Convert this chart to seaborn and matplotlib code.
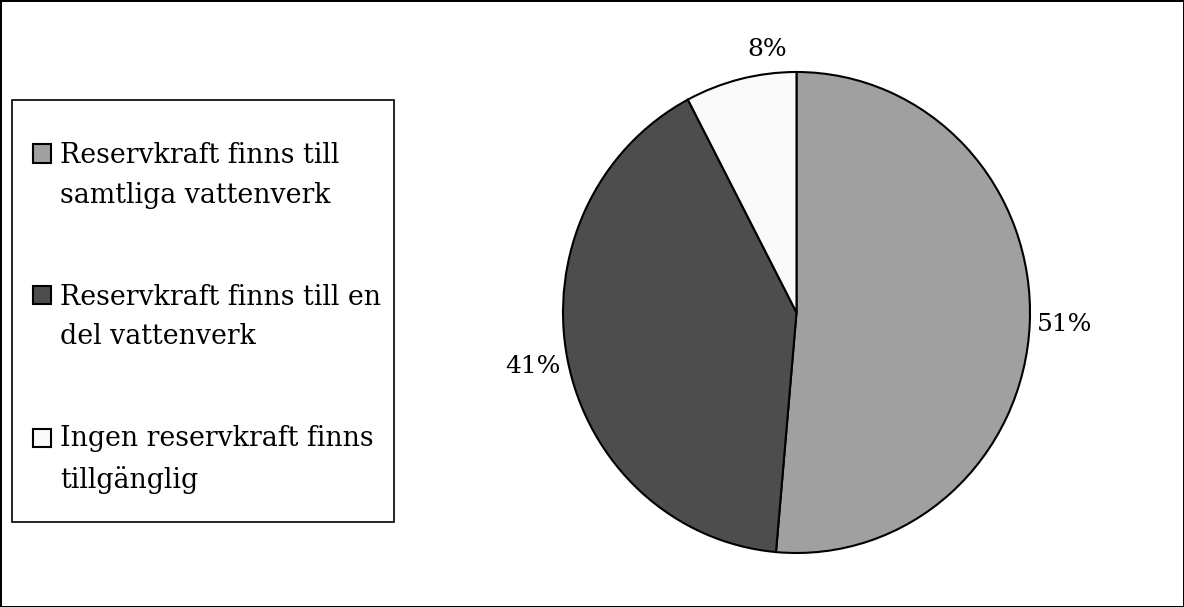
import matplotlib
matplotlib.use("Agg")
import matplotlib.pyplot as plt
import seaborn as sns
from matplotlib.patches import Rectangle
from matplotlib.legend_handler import HandlerPatch

sns.set_theme()
sns.set_style("white")
plt.rcParams['font.family'] = ['DejaVu Serif']
plt.rcParams['text.color'] = 'black'

categories = [
    'Reservkraft finns till\nsamtliga vattenverk',
    'Reservkraft finns till en\ndel vattenverk',
    'Ingen reservkraft finns\ntillgänglig',
]
shares = [51.4, 40.9, 7.7]
colors = ['#a0a0a0', '#4d4d4d', '#fafafa']

FS = 19.3
LINESP = 1.6

W, H = 1184, 607
fig = plt.figure(figsize=(W / 100, H / 100), dpi=100)
fig.patch.set_facecolor('white')
fig.patch.set_edgecolor('black')
fig.patch.set_linewidth(2)

ax = fig.add_axes([563 / W, 54 / H, 467 / W, 481 / H])
wedges, texts, pcts = ax.pie(
    shares, colors=colors, startangle=90, counterclock=False,
    autopct='%1.0f%%', pctdistance=1.15,
    wedgeprops={'edgecolor': 'black', 'linewidth': 1.5},
    textprops={'fontsize': 18, 'color': 'black'},
)
ax.set_aspect('auto')
ax.set_xlim(-1, 1)
ax.set_ylim(-1, 1)
ax.axis('off')
for t in pcts:
    t.set_clip_on(False)
# small slice label sits nearer the top, like the original
x8, y8 = pcts[2].get_position()
pcts[2].set_position((x8 * 0.45, y8 * 0.98))

# legend frame drawn as a box on the figure
fig.patches.append(Rectangle((12 / W, 1 - 522 / H), 382 / W, 422 / H,
                             transform=fig.transFigure, facecolor='white',
                             edgecolor='black', linewidth=1.2, zorder=1))


def first_line_patch(legend, orig_handle, xdescent, ydescent, width, height, fontsize):
    return Rectangle((-xdescent, -ydescent + fontsize * 0.85), width, height)


leg = fig.legend(
    wedges, categories, loc='upper left',
    bbox_to_anchor=(33 / W, 1 - 142 / H),
    fontsize=FS, frameon=False,
    handlelength=0.67, handleheight=0.67,
    handletextpad=0.34, labelspacing=2.8, borderpad=0, borderaxespad=0,
    handler_map={w: HandlerPatch(patch_func=first_line_patch) for w in wedges},
)
leg.set_zorder(3)
for t in leg.get_texts():
    t.set_linespacing(LINESP)
    t.set_color('black')

fig.savefig('out.png', dpi=100, facecolor=fig.get_facecolor(), edgecolor=fig.get_edgecolor())
